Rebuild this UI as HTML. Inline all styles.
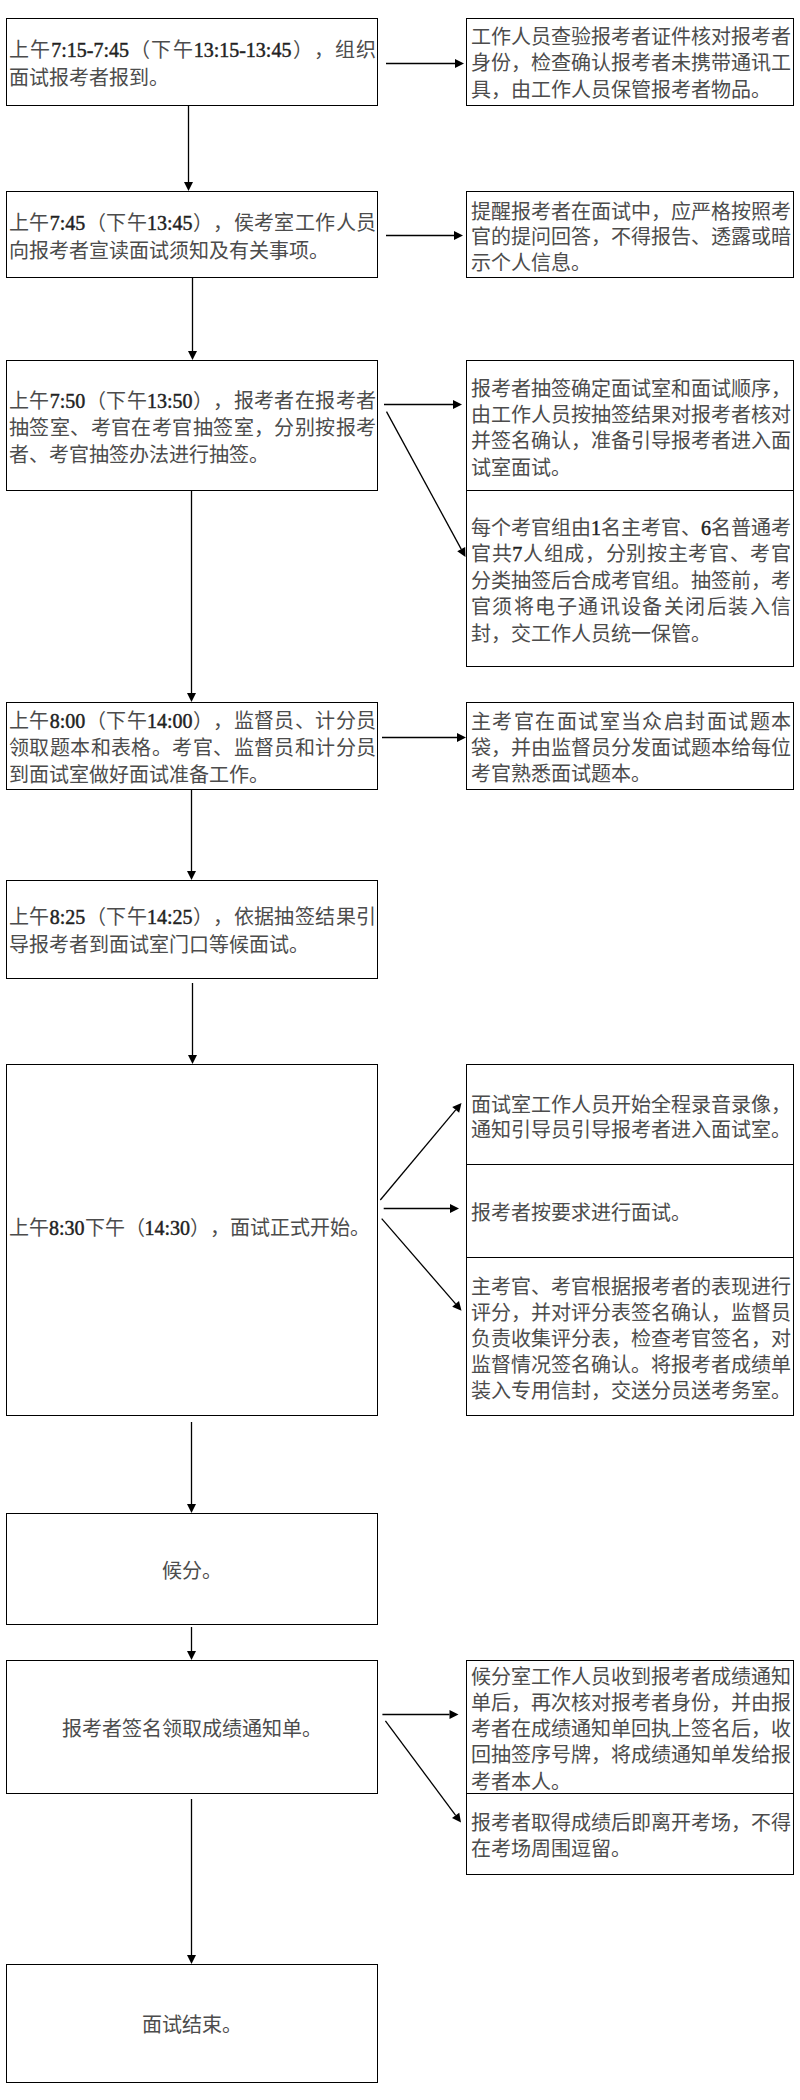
<!DOCTYPE html>
<html lang="zh-CN"><head><meta charset="utf-8"><style>
html,body{margin:0;padding:0;background:#fff;width:800px;height:2100px;overflow:hidden}
body{position:relative;font-family:"Liberation Serif",serif;text-spacing-trim:space-all;font-kerning:none}
svg{position:absolute;left:0;top:0}
.t{position:absolute;font-size:20px;line-height:20px;height:20px;white-space:nowrap;color:#4c4c4c}
.c{text-align:center}
.j{text-align:justify;text-align-last:justify}
b{font-weight:normal;color:#222;-webkit-text-stroke:0.45px #222}
</style></head><body>
<svg width="800" height="2100" viewBox="0 0 800 2100">
<g fill="none" stroke="#000" stroke-width="1.0">
<rect x="6.5" y="18.5" width="371" height="87"/>
<rect x="6.5" y="191.5" width="371" height="86"/>
<rect x="6.5" y="360.5" width="371" height="130"/>
<rect x="6.5" y="702.5" width="371" height="87"/>
<rect x="6.5" y="880.5" width="371" height="98"/>
<rect x="6.5" y="1064.5" width="371" height="351"/>
<rect x="6.5" y="1513.5" width="371" height="111"/>
<rect x="6.5" y="1660.5" width="371" height="133"/>
<rect x="6.5" y="1964.5" width="371" height="118"/>
<rect x="466.5" y="18.5" width="327" height="87"/>
<rect x="466.5" y="191.5" width="327" height="86"/>
<rect x="466.5" y="360.5" width="327" height="306"/>
<line x1="466" y1="490.5" x2="794" y2="490.5"/>
<rect x="466.5" y="702.5" width="327" height="87"/>
<rect x="466.5" y="1064.5" width="327" height="351"/>
<line x1="466" y1="1164.5" x2="794" y2="1164.5"/>
<line x1="466" y1="1257.5" x2="794" y2="1257.5"/>
<rect x="466.5" y="1660.5" width="327" height="214"/>
<line x1="466" y1="1793.5" x2="794" y2="1793.5"/>
</g>
<g fill="none" stroke="#000" stroke-width="1.3">
<line x1="188.5" y1="105" x2="188.5" y2="182.00"/>
<line x1="192.5" y1="277" x2="192.5" y2="351.00"/>
<line x1="191.5" y1="490" x2="191.5" y2="693.00"/>
<line x1="191.5" y1="789" x2="191.5" y2="871.00"/>
<line x1="192.5" y1="983" x2="192.5" y2="1055.00"/>
<line x1="191.5" y1="1422" x2="191.5" y2="1504.00"/>
<line x1="191.5" y1="1627" x2="191.5" y2="1651.00"/>
<line x1="191.5" y1="1799" x2="191.5" y2="1955.00"/>
<line x1="386" y1="63.5" x2="455.00" y2="63.50"/>
<line x1="386" y1="235.5" x2="454.00" y2="235.50"/>
<line x1="384" y1="404.5" x2="453.00" y2="404.50"/>
<line x1="386.5" y1="411.6" x2="461.20" y2="549.09"/>
<line x1="382" y1="737.5" x2="457.00" y2="737.50"/>
<line x1="380.3" y1="1200" x2="455.72" y2="1109.90"/>
<line x1="383.7" y1="1208.5" x2="450.00" y2="1208.50"/>
<line x1="381.7" y1="1218.6" x2="455.61" y2="1303.90"/>
<line x1="382.4" y1="1714.5" x2="449.50" y2="1714.50"/>
<line x1="385.4" y1="1720.8" x2="455.63" y2="1815.37"/>
</g>
<g fill="#000" stroke="none">
<polygon points="188.50,191.00 184.00,182.00 193.00,182.00"/>
<polygon points="192.50,360.00 188.00,351.00 197.00,351.00"/>
<polygon points="191.50,702.00 187.00,693.00 196.00,693.00"/>
<polygon points="191.50,880.00 187.00,871.00 196.00,871.00"/>
<polygon points="192.50,1064.00 188.00,1055.00 197.00,1055.00"/>
<polygon points="191.50,1513.00 187.00,1504.00 196.00,1504.00"/>
<polygon points="191.50,1660.00 187.00,1651.00 196.00,1651.00"/>
<polygon points="191.50,1964.00 187.00,1955.00 196.00,1955.00"/>
<polygon points="464.00,63.50 455.00,68.00 455.00,59.00"/>
<polygon points="463.00,235.50 454.00,240.00 454.00,231.00"/>
<polygon points="462.00,404.50 453.00,409.00 453.00,400.00"/>
<polygon points="465.50,557.00 457.25,551.24 465.16,546.94"/>
<polygon points="466.00,737.50 457.00,742.00 457.00,733.00"/>
<polygon points="461.50,1103.00 459.17,1112.79 452.27,1107.01"/>
<polygon points="459.00,1208.50 450.00,1213.00 450.00,1204.00"/>
<polygon points="461.50,1310.70 452.21,1306.84 459.01,1300.95"/>
<polygon points="458.50,1714.50 449.50,1719.00 449.50,1710.00"/>
<polygon points="461.00,1822.60 452.02,1818.06 459.25,1812.69"/>
</g>
</svg>
<div class="t j" style="left:9px;top:39.50px;width:367px">上午<b>7:15-7:45</b>（下午<b>13:15-13:45</b>），组织</div>
<div class="t" style="left:9px;top:67.50px">面试报考者报到。</div>
<div class="t j" style="left:471px;top:27.30px;width:320px">工作人员查验报考者证件核对报考者</div>
<div class="t j" style="left:471px;top:53.40px;width:320px">身份，检查确认报考者未携带通讯工</div>
<div class="t" style="left:471px;top:79.50px">具，由工作人员保管报考者物品。</div>
<div class="t j" style="left:9px;top:212.50px;width:367px">上午<b>7:45</b>（下午<b>13:45</b>），侯考室工作人员</div>
<div class="t" style="left:9px;top:240.50px">向报考者宣读面试须知及有关事项。</div>
<div class="t j" style="left:471px;top:201.50px;width:320px">提醒报考者在面试中，应严格按照考</div>
<div class="t j" style="left:471px;top:227.40px;width:320px">官的提问回答，不得报告、透露或暗</div>
<div class="t" style="left:471px;top:253.30px">示个人信息。</div>
<div class="t j" style="left:9px;top:390.60px;width:367px">上午<b>7:50</b>（下午<b>13:50</b>），报考者在报考者</div>
<div class="t j" style="left:9px;top:417.85px;width:367px">抽签室、考官在考官抽签室，分别按报考</div>
<div class="t" style="left:9px;top:445.10px">者、考官抽签办法进行抽签。</div>
<div class="t j" style="left:471px;top:379.00px;width:320px">报考者抽签确定面试室和面试顺序，</div>
<div class="t j" style="left:471px;top:405.20px;width:320px">由工作人员按抽签结果对报考者核对</div>
<div class="t j" style="left:471px;top:431.40px;width:320px">并签名确认，准备引导报考者进入面</div>
<div class="t" style="left:471px;top:457.60px">试室面试。</div>
<div class="t j" style="left:471px;top:517.90px;width:320px">每个考官组由<b>1</b>名主考官、<b>6</b>名普通考</div>
<div class="t j" style="left:471px;top:544.30px;width:320px">官共<b>7</b>人组成，分别按主考官、考官</div>
<div class="t j" style="left:471px;top:570.70px;width:320px">分类抽签后合成考官组。抽签前，考</div>
<div class="t j" style="left:471px;top:597.10px;width:320px">官须将电子通讯设备关闭后装入信</div>
<div class="t" style="left:471px;top:623.50px">封，交工作人员统一保管。</div>
<div class="t j" style="left:9px;top:710.70px;width:367px">上午<b>8:00</b>（下午<b>14:00</b>），监督员、计分员</div>
<div class="t j" style="left:9px;top:737.60px;width:367px">领取题本和表格。考官、监督员和计分员</div>
<div class="t" style="left:9px;top:764.50px">到面试室做好面试准备工作。</div>
<div class="t j" style="left:471px;top:711.90px;width:320px">主考官在面试室当众启封面试题本</div>
<div class="t j" style="left:471px;top:737.80px;width:320px">袋，并由监督员分发面试题本给每位</div>
<div class="t" style="left:471px;top:763.70px">考官熟悉面试题本。</div>
<div class="t j" style="left:9px;top:906.60px;width:367px">上午<b>8:25</b>（下午<b>14:25</b>），依据抽签结果引</div>
<div class="t" style="left:9px;top:934.50px">导报考者到面试室门口等候面试。</div>
<div class="t" style="left:9px;top:1217.50px">上午<b>8:30</b>下午（<b>14:30</b>），面试正式开始。</div>
<div class="t j" style="left:471px;top:1094.60px;width:320px">面试室工作人员开始全程录音录像，</div>
<div class="t" style="left:471px;top:1120.00px">通知引导员引导报考者进入面试室。</div>
<div class="t" style="left:471px;top:1203.25px">报考者按要求进行面试。</div>
<div class="t j" style="left:471px;top:1277.20px;width:320px">主考官、考官根据报考者的表现进行</div>
<div class="t j" style="left:471px;top:1303.25px;width:320px">评分，并对评分表签名确认，监督员</div>
<div class="t j" style="left:471px;top:1329.30px;width:320px">负责收集评分表，检查考官签名，对</div>
<div class="t j" style="left:471px;top:1355.35px;width:320px">监督情况签名确认。将报考者成绩单</div>
<div class="t" style="left:471px;top:1381.40px">装入专用信封，交送分员送考务室。</div>
<div class="t j" style="left:471px;top:1666.90px;width:320px">候分室工作人员收到报考者成绩通知</div>
<div class="t j" style="left:471px;top:1693.05px;width:320px">单后，再次核对报考者身份，并由报</div>
<div class="t j" style="left:471px;top:1719.20px;width:320px">考者在成绩通知单回执上签名后，收</div>
<div class="t j" style="left:471px;top:1745.35px;width:320px">回抽签序号牌，将成绩通知单发给报</div>
<div class="t" style="left:471px;top:1771.50px">考者本人。</div>
<div class="t j" style="left:471px;top:1813.10px;width:320px">报考者取得成绩后即离开考场，不得</div>
<div class="t" style="left:471px;top:1838.90px">在考场周围逗留。</div>
<div class="t c" style="left:6px;top:1561px;width:371px">候分。</div>
<div class="t c" style="left:6px;top:1719px;width:371px">报考者签名领取成绩通知单。</div>
<div class="t c" style="left:6px;top:2015px;width:371px">面试结束。</div>
</body></html>
